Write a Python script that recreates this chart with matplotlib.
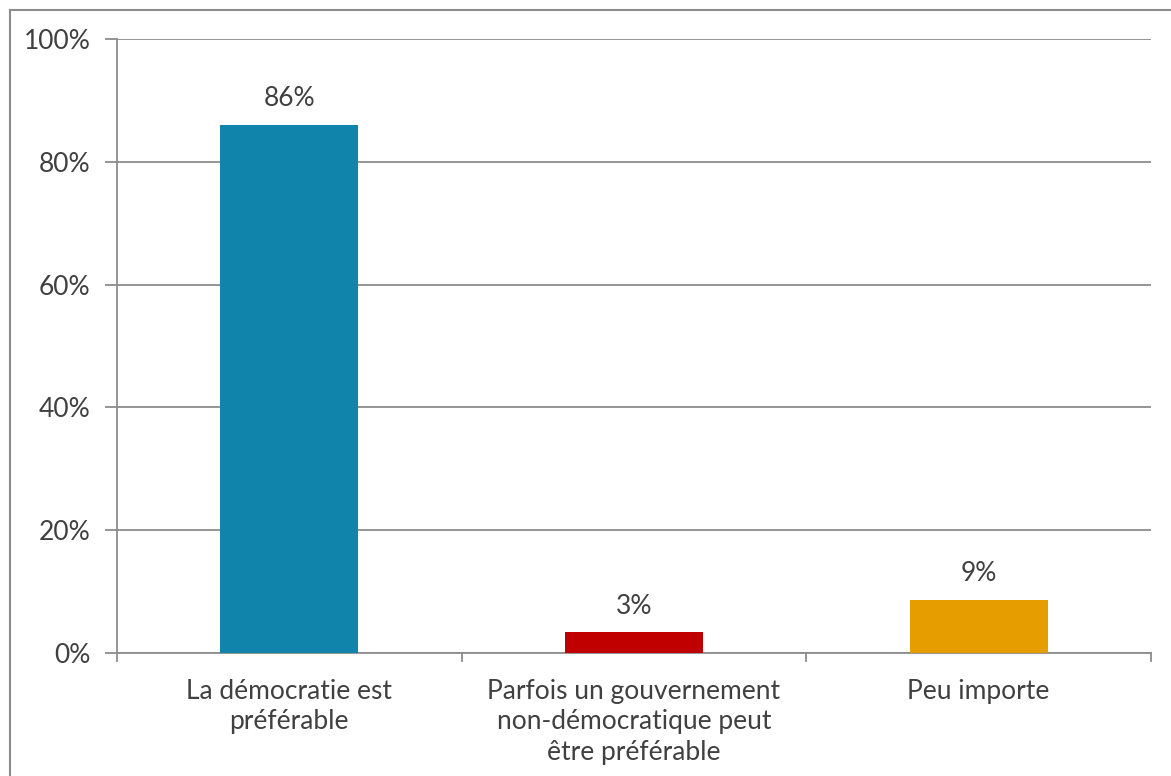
import matplotlib
matplotlib.use("Agg")
import matplotlib.pyplot as plt
from matplotlib.lines import Line2D

categories = ["La démocratie est\npréférable",
              "Parfois un gouvernement\nnon-démocratique peut\nêtre préférable",
              "Peu importe"]
values = [86.0, 3.4, 8.7]
labels = ["86%", "3%", "9%"]
colors = ["#1184AC", "#C00000", "#E69D00"]
yticks = [0, 20, 40, 60, 80, 100]

plt.rcParams['font.family'] = ['Lato', 'DejaVu Sans']
txt = "#404040"
gray = "#8C8C8C"
fs = 19

fig = plt.figure(figsize=(11.71, 7.76), dpi=100)
ax = fig.add_axes([117/1171, 1-653/776, (1151-117)/1171, (653-39)/776])

x = range(len(categories))
ax.bar(x, values, width=0.4, color=colors, zorder=3)
for xi, v, l in zip(x, values, labels):
    ax.text(xi, v + 2.2, l, ha="center", va="bottom", fontsize=fs, color=txt)

ax.set_xlim(-0.5, len(categories) - 0.5)
ax.set_ylim(0, 100)
ax.set_yticks(yticks)
ax.set_yticklabels([f"{t}%" for t in yticks], fontsize=fs, color=txt)
ax.yaxis.grid(True, color=gray, linewidth=1.3, zorder=0)
ax.set_xticks([])
for b in [-0.5, 0.5, 1.5, 2.5]:
    ax.plot([b, b], [0, -1.3], color=gray, lw=1.3, clip_on=False)
for xi, c in zip(x, categories):
    ax.text(xi, -4.2, c, ha="center", va="top", fontsize=fs, color=txt, linespacing=1.28)

ax.tick_params(axis="y", length=9, width=1.3, color=gray, pad=10)
for s in ["top", "right"]:
    ax.spines[s].set_visible(False)
for s in ["left", "bottom"]:
    ax.spines[s].set_color(gray)
    ax.spines[s].set_linewidth(1.3)
ax.spines["left"].set_zorder(4)

# outer chart frame (partially cropped)
fig.add_artist(Line2D([10/1171, 1.0], [1-10/776, 1-10/776], color=gray, lw=1.5, transform=fig.transFigure))
fig.add_artist(Line2D([10/1171, 10/1171], [0, 1-10/776], color=gray, lw=1.5, transform=fig.transFigure))

fig.savefig("out.png", dpi=100)
